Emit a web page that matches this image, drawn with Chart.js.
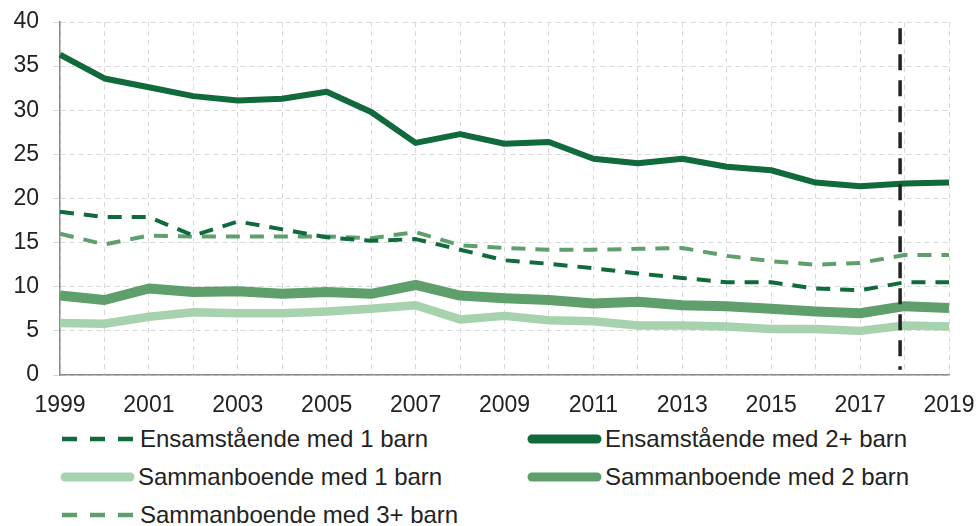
<!DOCTYPE html>
<html>
<head>
<meta charset="utf-8">
<script src="https://cdn.jsdelivr.net/npm/chart.js@4/dist/chart.umd.min.js"></script>
<style>
  html,body{ margin:0; padding:0; background:#fff; }
  body{ position:relative; width:976px; height:526px; overflow:hidden; font-family:"Liberation Sans", Arial, sans-serif; }
  #wrap{ position:absolute; left:0; top:0; width:976px; height:420px; }
  .item{ position:absolute; display:flex; align-items:center; height:30px; font-size:24px; color:#222; white-space:nowrap; }
  .item svg{ margin-right:3px; }
</style>
</head>
<body>
<div id="wrap"><canvas id="chart" width="976" height="420"></canvas></div>
<div id="legend"></div>
<script>
const years = ['1999','2000','2001','2002','2003','2004','2005','2006','2007','2008','2009','2010','2011','2012','2013','2014','2015','2016','2017','2018','2019'];
const ensam1 = [18.5,17.9,17.9,15.8,17.4,16.5,15.6,15.2,15.4,14.2,13.0,12.6,12.1,11.5,11.0,10.5,10.5,9.8,9.6,10.5,10.5];
const ensam2plus = [36.3,33.6,32.6,31.6,31.1,31.3,32.1,29.8,26.3,27.3,26.2,26.4,24.5,24.0,24.5,23.6,23.2,21.8,21.4,21.7,21.8];
const samman1 = [5.9,5.8,6.6,7.1,7.0,7.0,7.2,7.5,7.9,6.3,6.7,6.2,6.1,5.6,5.6,5.5,5.2,5.2,5.0,5.6,5.5];
const samman2 = [9.0,8.5,9.8,9.4,9.5,9.2,9.4,9.2,10.2,9.0,8.7,8.5,8.1,8.3,7.9,7.8,7.5,7.2,7.0,7.8,7.6];
const samman3plus = [16.0,14.8,15.8,15.7,15.7,15.7,15.7,15.5,16.2,14.7,14.4,14.2,14.2,14.3,14.4,13.5,12.9,12.5,12.7,13.6,13.6];
const yTicks = [0,5,10,15,20,25,30,35,40];
const markerIndex = 18.9; // vertical dashed marker, just before 2018
const markerSpan = [39.3, 0.6];

const DARK = '#106a3b', MID = '#5f9f6c', LIGHT = '#a7d2ae';

const series = [
  { label:'Ensamstående med 1 barn', data:ensam1, color:DARK, width:4, dash:[14,10] },
  { label:'Ensamstående med 2+ barn', data:ensam2plus, color:DARK, width:6, dash:[] },
  { label:'Sammanboende med 1 barn', data:samman1, color:LIGHT, width:8.5, dash:[] },
  { label:'Sammanboende med 2 barn', data:samman2, color:MID, width:10, dash:[] },
  { label:'Sammanboende med 3+ barn', data:samman3plus, color:MID, width:4, dash:[14,10] },
];

const markerPlugin = {
  id:'marker',
  afterDatasetsDraw(chart){
    const {ctx, scales:{x, y}} = chart;
    const px = x.getPixelForValue(markerIndex);
    ctx.save();
    ctx.strokeStyle = '#222';
    ctx.lineWidth = 3.5;
    ctx.setLineDash([16,10]);
    ctx.beginPath();
    ctx.moveTo(px, y.getPixelForValue(markerSpan[0]));
    ctx.lineTo(px, y.getPixelForValue(markerSpan[1]));
    ctx.stroke();
    ctx.restore();
  }
};

Chart.defaults.font.family = '"Liberation Sans", Arial, sans-serif';
Chart.defaults.color = '#222';

new Chart(document.getElementById('chart'), {
  type:'line',
  data:{
    labels:years,
    datasets: series.map(s=>({
      label:s.label, data:s.data, borderColor:s.color, backgroundColor:s.color,
      borderWidth:s.width, borderDash:s.dash, pointRadius:0, tension:0,
      borderJoinStyle:'round', borderCapStyle:'butt', fill:false
    }))
  },
  options:{
    responsive:false, animation:false,
    layout:{ padding:{ top:22, right:27, left:0, bottom:0 } },
    plugins:{ legend:{ display:false }, tooltip:{ enabled:false } },
    scales:{
      x:{
        offset:false,
        grid:{ color:'#d9d9d9', lineWidth:1, drawTicks:false },
        border:{ display:true, color:'#8c8c8c', width:1.5, dash:[5,4] },
        ticks:{ autoSkip:false, maxRotation:0, padding:17, font:{ size:23 },
          callback:(v,i)=> i%2===0 ? years[i] : '' },
        afterFit:(axis)=>{ axis.height = 45; axis.paddingLeft = 0; axis.paddingRight = 0; }
      },
      y:{
        min:yTicks[0], max:yTicks[yTicks.length-1],
        afterBuildTicks:(axis)=>{ axis.ticks = yTicks.map(v=>({value:v})); },
        grid:{ color:'#d9d9d9', lineWidth:1, tickLength:7 },
        border:{ display:true, color:'#8c8c8c', width:1.5, dash:[5,4] },
        ticks:{ padding:14, font:{ size:23 } },
        afterFit:(axis)=>{ axis.width = 60; axis.paddingTop = 0; axis.paddingBottom = 0; }
      }
    }
  },
  plugins:[markerPlugin]
});

// legend, two columns
const legend = document.getElementById('legend');
const pos = [[62,439],[529,439],[62,477],[529,477],[62,515]];
series.forEach((s,i)=>{
  const d = document.createElement('div');
  d.className = 'item';
  d.style.left = (pos[i][0] - (s.dash.length ? 0 : 2))+'px';
  d.style.top = (pos[i][1]-15)+'px';
  const line = s.dash.length
    ? `<line x1="0" y1="15" x2="71" y2="15" stroke="${s.color}" stroke-width="4.5" stroke-dasharray="15,13"/>`
    : `<line x1="5" y1="15" x2="70" y2="15" stroke="${s.color}" stroke-width="9" stroke-linecap="round"/>`;
  d.innerHTML = `<svg width="75" height="30">${line}</svg><span>${s.label}</span>`;
  legend.appendChild(d);
});
</script>
</body>
</html>
